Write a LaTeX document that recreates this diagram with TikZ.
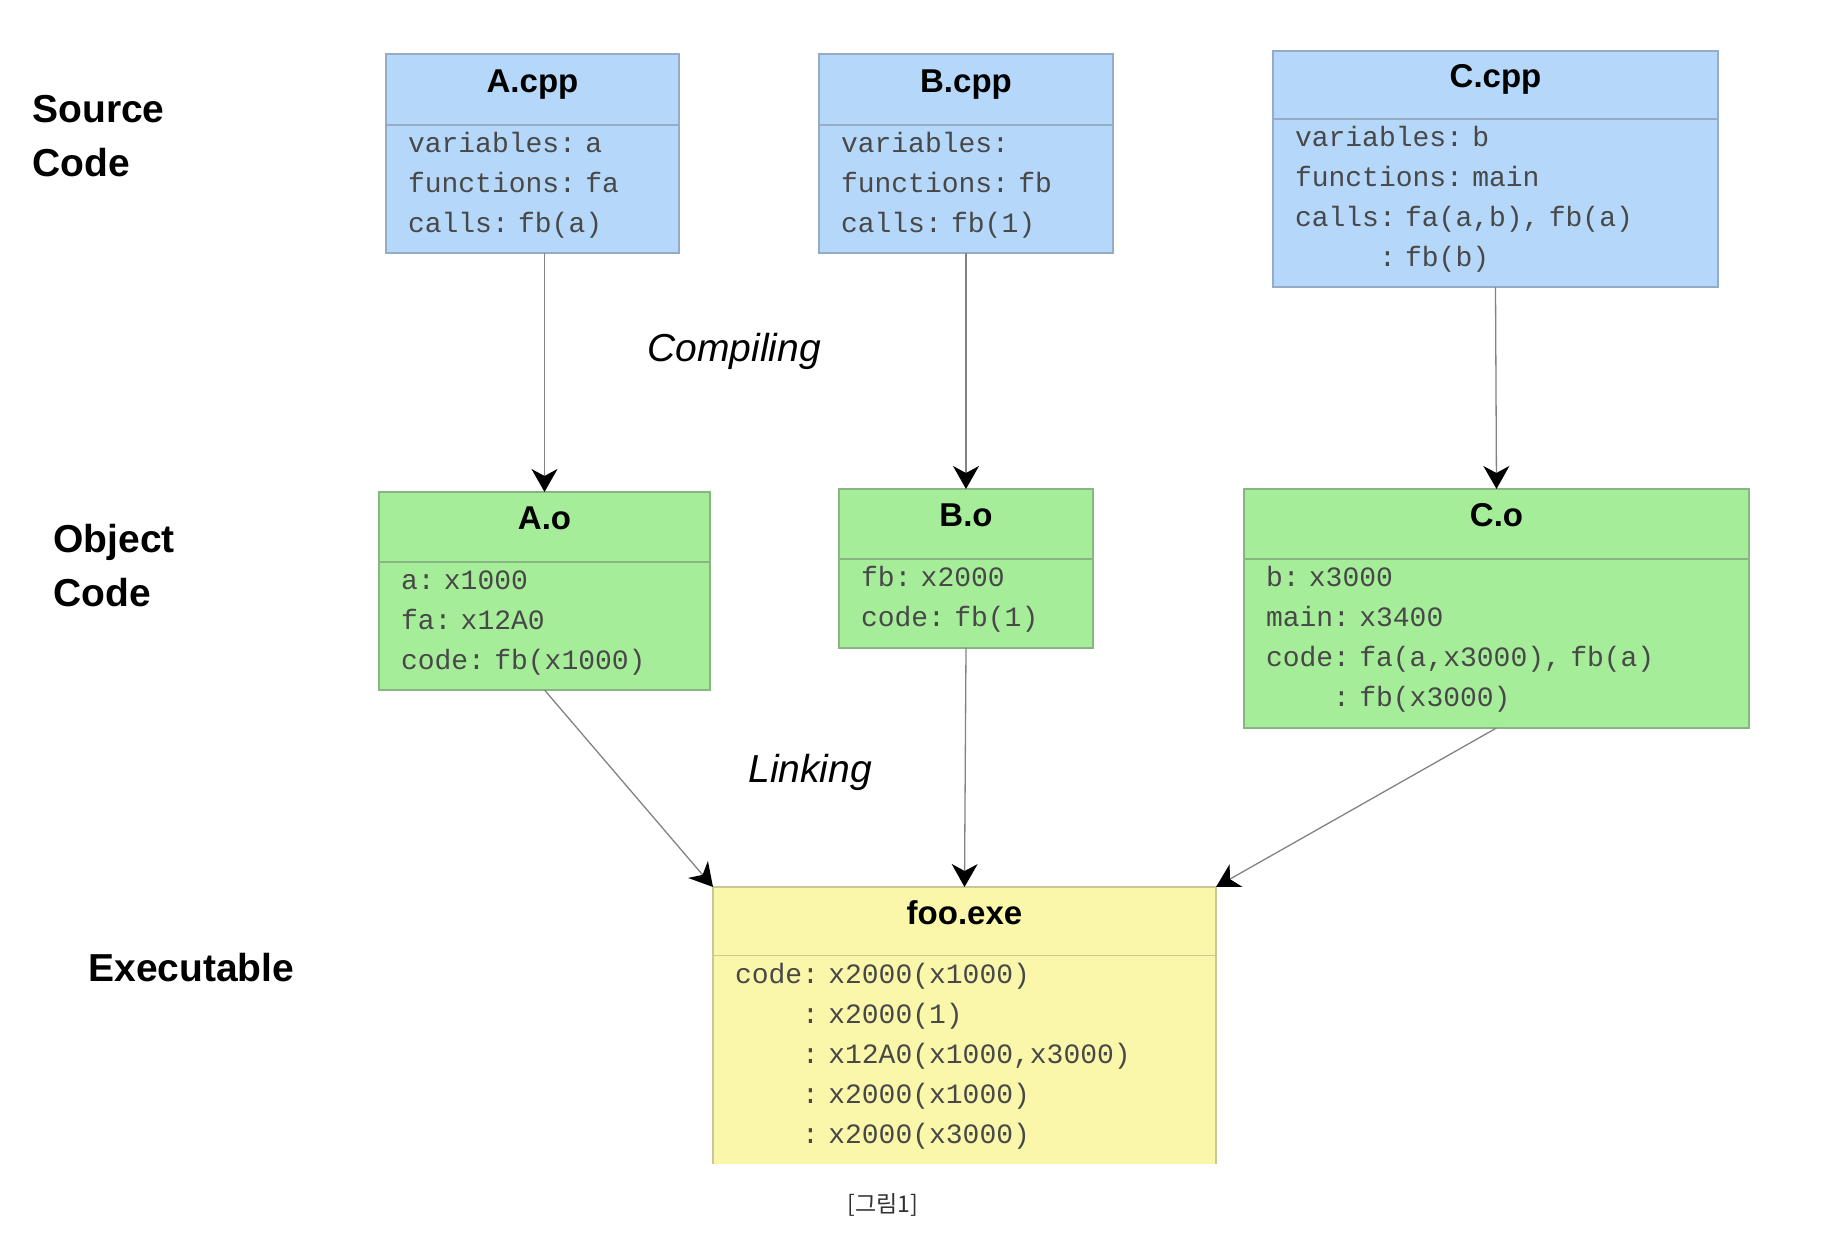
\documentclass[tikz,border=0pt]{standalone}
\usepackage{fontspec}
\setmainfont{Liberation Sans}
\setmonofont{Liberation Mono}
\newfontfamily\krfont{Noto Sans CJK KR}
\usepackage{tikz}
\usetikzlibrary{arrows.meta, positioning}
\usepackage{xcolor}

\definecolor{srcfill}{RGB}{181,216,250}
\definecolor{srcline}{RGB}{150,172,198}
\definecolor{objfill}{RGB}{166,237,153}
\definecolor{objline}{RGB}{135,182,130}
\definecolor{exefill}{RGB}{250,247,170}
\definecolor{exeline}{RGB}{200,200,150}
\definecolor{codegray}{RGB}{72,72,72}
\definecolor{arrowgray}{RGB}{130,130,130}
\definecolor{captiongray}{RGB}{50,50,50}

% monospace text of the boxes
\newcommand\codefont{\ttfamily\frenchspacing\fontsize{14}{20}\selectfont}

\begin{document}
\begin{tikzpicture}[x=0.5pt, y=-0.5pt,
    head/.style = {rectangle, draw=#1line, fill=#1fill, line width=0.75pt, outer sep=0pt, inner sep=0pt, font=\bfseries\fontsize{16.5}{19}\selectfont, text height=12pt, text depth=9pt},
    body/.style = {rectangle, draw=#1line, fill=#1fill, line width=0.75pt, outer sep=0pt, inner xsep=11pt, inner ysep=0pt, align=left, text=codegray, font=\codefont, text height=13.75pt},
    stage/.style = {font=\bfseries\fontsize{19.5}{27}\selectfont, anchor=base west, inner sep=0pt, align=left, text width=120pt},
    action/.style = {font=\itshape\fontsize{19.5}{24}\selectfont, anchor=base west, inner sep=0pt},
    arrow/.style = {draw=arrowgray, line width=0.65pt, -{Stealth[length=11.5pt, width=13pt, inset=3.5pt, color=black]}}
]
\useasboundingbox (0,0) rectangle (1844,1234);

% stage labels on the left
\node (srclabel) [stage] at (32,123) {Source\\Code};
\node (objlabel) [stage] at (53,553) {Object\\Code};
\node (exelabel) [stage] at (88,982) {Executable};

% source files
\node (Acpp) [head=src, minimum width=146.5pt, minimum height=35.5pt] at (532.5,89.5) {A.cpp};
\node (Acppbody) [body=src, text width=124.5pt, text depth=50.25pt, below=0pt of Acpp] {variables: a\\functions: fa\\calls: fb(a)};

\node (Bcpp) [head=src, minimum width=147pt, minimum height=35.5pt] at (966,89.5) {B.cpp};
\node (Bcppbody) [body=src, text width=125pt, text depth=50.25pt, below=0pt of Bcpp] {variables:\\functions: fb\\calls: fb(1)};

\node (Ccpp) [head=src, minimum width=222.5pt, minimum height=34pt] at (1495.5,85) {C.cpp};
\node (Ccppbody) [body=src, text width=200.5pt, text depth=70.25pt, below=0pt of Ccpp] {variables: b\\functions: main\\calls: fa(a,b), fb(a)\\\hphantom{calls}: fb(b)};

% object files
\node (Ao) [head=obj, minimum width=165.5pt, minimum height=35pt] at (544.5,527) {A.o};
\node (Aobody) [body=obj, text width=143.5pt, text depth=50.25pt, below=0pt of Ao] {a: x1000\\fa: x12A0\\code: fb(x1000)};

\node (Bo) [head=obj, minimum width=127pt, minimum height=35pt] at (966,524) {B.o};
\node (Bobody) [body=obj, text width=105pt, text depth=30.75pt, below=0pt of Bo] {fb: x2000\\code: fb(1)};

\node (Co) [head=obj, minimum width=252.5pt, minimum height=35pt] at (1496.5,524) {C.o};
\node (Cobody) [body=obj, text width=230.5pt, text depth=70.75pt, below=0pt of Co] {b: x3000\\main: x3400\\code: fa(a,x3000), fb(a)\\\hphantom{code}: fb(x3000)};

% executable, open at the bottom
\node (foo) [head=exe, minimum width=251.5pt, minimum height=34.5pt] at (964.5,921.5) {foo.exe};
\node (foobody) [body=exe, draw=none, text width=229.5pt, text depth=90.25pt, below=0pt of foo] {code: x2000(x1000)\\\hphantom{code}: x2000(1)\\\hphantom{code}: x12A0(x1000,x3000)\\\hphantom{code}: x2000(x1000)\\\hphantom{code}: x2000(x3000)};
\draw [exeline, line width=0.75pt] (foobody.south west) -- (foobody.north west) (foobody.north east) -- (foobody.south east);

% compiling
\draw [arrow] (Acppbody.south -| Ao.north) -- (Ao.north);
\draw [arrow] (Bcppbody.south) -- (Bo.north);
\draw [arrow] (Ccppbody.south) -- (Co.north);
\node (compiling) [action] at (647,362) {Compiling};

% linking
\draw [arrow] (Aobody.south) -- (foo.north west);
\draw [arrow] (Bobody.south) -- (foo.north);
\draw [arrow] (Cobody.south) -- (foo.north east);
\node (linking) [action] at (748,783) {Linking};

\node (caption) [font=\krfont\fontsize{11.5}{14}\selectfont, text=captiongray, anchor=base west, inner sep=0pt] at (847,1213) {[그림1]};

\end{tikzpicture}
\end{document}
